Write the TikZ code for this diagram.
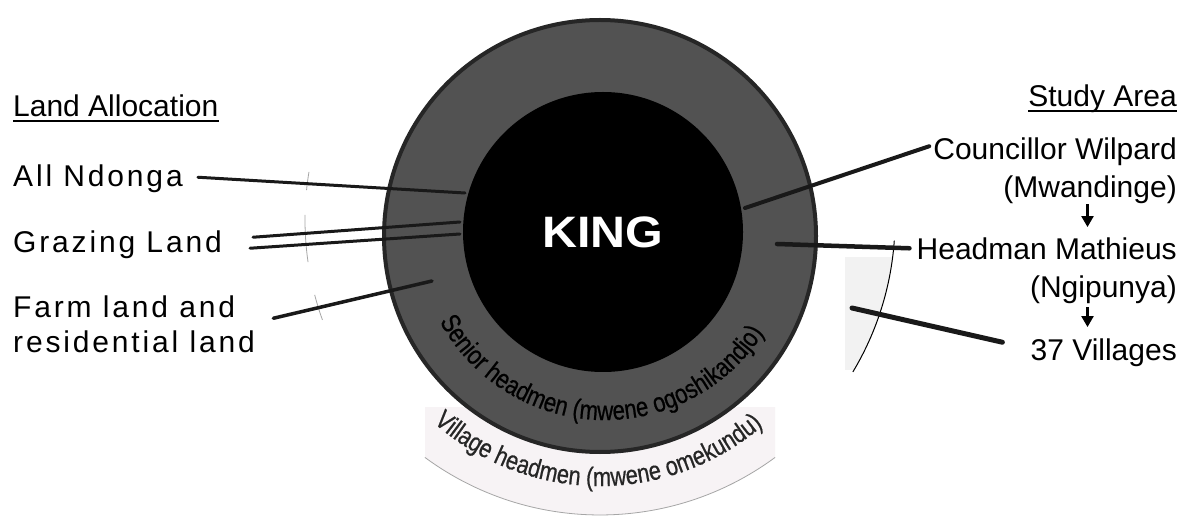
\documentclass[tikz,border=0pt]{standalone}
\usepackage{fontspec}
\setmainfont{Liberation Sans}
\newfontfamily\lsp{Liberation Sans}[LetterSpace=9.5]
\newfontfamily\narrowf{Liberation Sans}[FakeStretch=0.82,FakeBold=0.6]
\usetikzlibrary{decorations.text,arrows.meta}
\definecolor{ringgray}{gray}{0.32}
\definecolor{village}{RGB}{247,243,245}
\begin{document}
\begin{tikzpicture}[x=1pt,y=1pt,
  lbl/.style={inner sep=0pt, font=\fontsize{30}{36}\selectfont},
  lbls/.style={inner sep=0pt, font=\lsp\fontsize{30}{36}\selectfont},
  conn/.style={line width=3pt, black!90, line cap=round},
  arr/.style={line width=2.3pt, -{Triangle[width=12pt,length=11pt]}},
  faint/.style={line width=0.8pt, black!35}]
\useasboundingbox (0,0) rectangle (1183,517);
\fill[white] (0,0) rectangle (1183,517);

% village headmen band (outer ring, visible at the bottom)
\begin{scope}
  \clip (425,0) rectangle (775,110);
  \fill[village] (600,297) circle (295);
\end{scope}
\draw[faint] (600,297) ++(233.6:295) arc[start angle=233.6,end angle=306.4,radius=295];
% right fragment of the outer ring
\begin{scope}
  \clip (845,147) rectangle (900,259);
  \fill[black!5] (600,297) circle (295);
\end{scope}
\draw[line width=1pt] (600,297) ++(-4:295) arc[start angle=-4,end angle=-31,radius=295];
% left faint fragments of the outer ring
\foreach \a/\b in {170.6/174.2, 179/188.2, 194.7/199.8}
  \draw[faint] (600,297) ++(\a:295) arc[start angle=\a,end angle=\b,radius=295];

% senior headmen ring
\node[circle, fill=ringgray, draw=black!85, line width=4pt, minimum size=432pt, inner sep=0pt] (ring) at (600,281) {};

% labels left
\node[lbl, anchor=base west] (la) at (13,400) {Land Allocation};
\draw[line width=1.6pt] ([yshift=-4pt]la.base west) -- ([yshift=-4pt]la.base east);
\node[lbls, anchor=base west] (nd) at (13,330) {All Ndonga};
\node[lbls, anchor=base west] (gl) at (13,264) {Grazing Land};
\node[lbls, anchor=base west] (fl) at (13,199) {Farm land and};
\node[lbls, anchor=base west] (fl2) at (13,164) {residential land};

% labels right
\node[lbl, anchor=base east] (sa) at (1177,410) {Study Area};
\draw[line width=1.6pt] ([yshift=-4pt]sa.base west) -- ([yshift=-4pt]sa.base east);
\node[lbl, anchor=base east] (cw) at (1177,357) {Councillor Wilpard};
\node[lbl, anchor=base east] (mw) at (1177,319) {(Mwandinge)};
\node[lbl, anchor=base east] (hm) at (1177,257) {Headman Mathieus};
\node[lbl, anchor=base east] (ng) at (1177,219) {(Ngipunya)};
\node[lbl, anchor=base east] (vl) at (1177,157) {37 Villages};

\coordinate (ax) at (1087.5,0);
\draw[arr, shorten <=0pt, shorten >=11pt] (ax |- mw.south) -- (ax |- hm.north);
\draw[arr, shorten <=3pt, shorten >=11pt] (ax |- ng.south) -- (ax |- vl.north);

% connector end points
\coordinate (ndE) at (465,324);
\coordinate (glE1) at (460,295);
\coordinate (glE2) at (460,283);
\coordinate (flE) at (432,236);
\coordinate (cwE) at (745,309);
\coordinate (hmE) at (777,273);
\coordinate (vlE) at (852,209);

\draw[conn] ([xshift=15pt,yshift=2pt]nd.east) -- (ndE);
\draw[conn] ([xshift=31pt,yshift=8pt]gl.east) -- (glE1);
\draw[conn] ([xshift=28pt,yshift=-3pt]gl.east) -- (glE2);
\draw[conn, line width=3.5pt] ([xshift=38pt,yshift=-11pt]fl.east) -- (flE);
\draw[conn, line width=4pt] ([xshift=-4pt,yshift=6pt]cw.west) -- (cwE);
\draw[conn, line width=4.5pt] ([xshift=-7pt,yshift=1pt]hm.west) -- (hmE);
\draw[conn, line width=5pt] ([xshift=-28pt,yshift=10pt]vl.west) -- (vlE);

% king
\node[circle, fill=black, minimum size=280pt, inner sep=0pt, text=white,
      font=\fontsize{44}{44}\selectfont\bfseries] (king) at (603,285) {\scalebox{1.1}[1]{KING}};

% curved texts
\path[decorate, decoration={text along path, text align=center,
  text={|\narrowf\fontsize{27}{27}\selectfont|Senior headmen (mwene ogoshikandjo)}}]
  (426.20,226.90) arc[start angle=198,end angle=338,radius=188];
\path[decorate, decoration={text along path, text align=center,
  text={|\narrowf\fontsize{26.5}{26.5}\selectfont\color{black!85}|Village headmen (mwene omekundu)}}]
  (364.34,197.55) arc[start angle=199.5,end angle=339.5,radius=250];
\end{tikzpicture}
\end{document}
